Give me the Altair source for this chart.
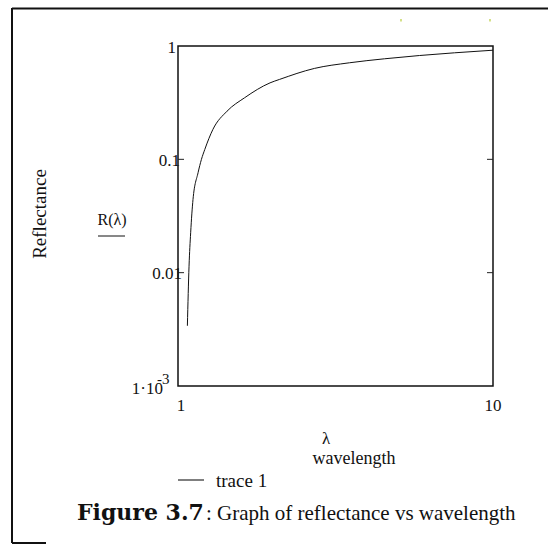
import altair as alt
import pandas as pd

# Reflectance curve R(lambda), log-log
wavelength = [1.071, 1.084, 1.097, 1.116, 1.158, 1.187, 1.216, 1.291,
              1.431, 1.626, 1.96, 2.10, 2.71, 3.50, 4.52, 5.84, 7.55, 10.0]
reflectance = [0.0034, 0.0114, 0.0225, 0.0443, 0.0762, 0.100, 0.122, 0.184,
               0.266, 0.349, 0.473, 0.507, 0.634, 0.711, 0.771, 0.824, 0.871, 0.918]

# Minor tick marks drawn inside the frame
y_ticks = [0.1, 0.01]
y_tick_labels = ["1", "0.1", "0.01"]
y_tick_values = [1.0, 0.1, 0.01]
x_tick_values = [1, 10]
x_tick_labels = ["1", "10"]

FONT = "Liberation Serif"
LEFT, TOP = 178, 46          # plot origin on the page
W, H = 315, 340              # plot area
PAGE_W, PAGE_H = 548, 549

def px(x):
    return alt.value(x - LEFT)

def py(y):
    return alt.value(y - TOP)

xs = alt.Scale(type="log", domain=[1, 10])
ys = alt.Scale(type="log", domain=[0.001, 1])

curve_df = pd.DataFrame({"lam": wavelength, "R": reflectance})
curve = alt.Chart(curve_df).mark_line(
    color="#111111", strokeWidth=1, interpolate="monotone"
).encode(
    x=alt.X("lam:Q", scale=xs, axis=None),
    y=alt.Y("R:Q", scale=ys, axis=None),
)

tick_df = pd.DataFrame({"v": y_ticks})
ticks_left = alt.Chart(tick_df).mark_rule(color="#222222", strokeWidth=1).encode(
    y=alt.Y("v:Q", scale=ys), x=alt.value(0), x2=alt.value(6)
)
ticks_right = alt.Chart(tick_df).mark_rule(color="#222222", strokeWidth=1).encode(
    y=alt.Y("v:Q", scale=ys), x=alt.value(W - 6), x2=alt.value(W)
)

layers = [curve, ticks_left, ticks_right]

# y tick labels, each nudged the way the original sits against the frame
label_dx = [-2, 2, 4]
for val, lab, dx in zip(y_tick_values, y_tick_labels, label_dx):
    d = pd.DataFrame({"v": [val], "t": [lab]})
    layers.append(
        alt.Chart(d).mark_text(font=FONT, fontSize=17, align="right",
                               baseline="middle", dx=dx, dy=1.5, color="#111111")
        .encode(y=alt.Y("v:Q", scale=ys), x=alt.value(0), text="t:N")
    )

# bottom label 1·10^-3
d_low = pd.DataFrame({"v": [0.001], "t": ["1\u00b710"], "e": ["-3"]})
layers.append(
    alt.Chart(d_low).mark_text(font=FONT, fontSize=17, align="right",
                               baseline="alphabetic", dx=-15, dy=8, color="#111111")
    .encode(y=alt.Y("v:Q", scale=ys), x=alt.value(0), text="t:N")
)
layers.append(
    alt.Chart(d_low).mark_text(font=FONT, fontSize=15, align="left",
                               baseline="alphabetic", dx=-21, dy=-2, color="#111111")
    .encode(y=alt.Y("v:Q", scale=ys), x=alt.value(0), text="e:N")
)

# x tick labels
xl_dx = [3, 0]
for val, lab, dx in zip(x_tick_values, x_tick_labels, xl_dx):
    d = pd.DataFrame({"v": [val], "t": [lab]})
    layers.append(
        alt.Chart(d).mark_text(font=FONT, fontSize=17, align="center",
                               baseline="alphabetic", dx=dx, color="#111111")
        .encode(x=alt.X("v:Q", scale=xs), y=py(411), text="t:N")
    )

def label(text, x, y, size=17, align="left", weight="normal", angle=0,
          baseline="alphabetic", font=FONT):
    d = pd.DataFrame({"t": [text]})
    kw = dict(font=font, fontSize=size, align=align, fontWeight=weight,
              baseline=baseline, color="#111111")
    if angle:
        kw["angle"] = angle
    return alt.Chart(d).mark_text(**kw).encode(x=px(x), y=py(y), text="t:N")

layers += [
    label("Reflectance", 46, 214, size=19, align="center", angle=270),
    label("R(\u03bb)", 112, 225, size=16, align="center"),
    label("\u03bb", 326, 444, size=17, align="center"),
    label("wavelength", 354, 464, size=18, align="center"),
    label("trace 1", 216, 487, size=19),
    label("Figure 3.7", 77, 520, size=22, weight="bold", font="DejaVu Serif"),
    label(": Graph of reflectance vs  wavelength", 206, 520, size=21),
]

def rule(x1, y1, x2, y2, color="#111111", width=1.0):
    d = pd.DataFrame({"k": [0]})
    return alt.Chart(d).mark_rule(color=color, strokeWidth=width).encode(
        x=px(x1), x2=px(x2), y=py(y1), y2=py(y2)
    )

layers += [
    # underline beneath R(λ)
    rule(98, 236, 125, 236, width=1),
    # legend sample line
    rule(178, 480, 204, 480, color="#555555", width=1.5),
    # page frame
    rule(12, 8.5, PAGE_W, 8.5, width=2),
    rule(12, 8, 12, 543, width=2),
    rule(12, 543, 46, 543, width=2),
    # small marks above the plot
    rule(401, 19, 401, 21.5, color="#b8cc3a", width=1.2),
    rule(490, 19, 490, 21.5, color="#b8cc3a", width=1.2),
]

chart = alt.layer(*layers).properties(
    width=W, height=H,
    padding={"left": LEFT, "top": TOP, "right": PAGE_W - LEFT - W,
             "bottom": PAGE_H - TOP - H},
    autosize=alt.AutoSizeParams(type="none"),
    background="white",
).configure_view(stroke="#111111", strokeWidth=1.5)

chart.save("out.html", embed_options={"renderer": "svg", "actions": False})
